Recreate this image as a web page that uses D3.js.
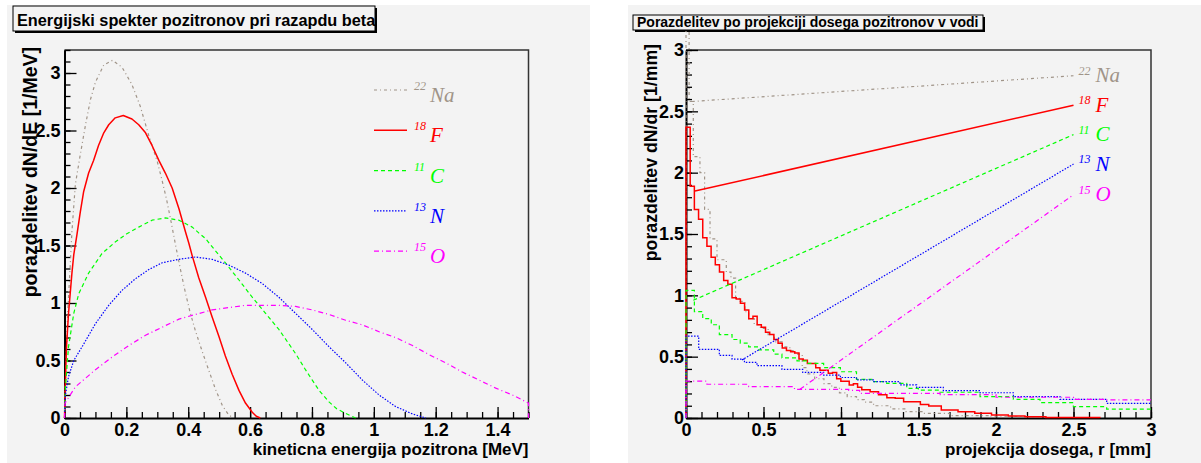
<!DOCTYPE html>
<html>
<head>
<meta charset="utf-8">
<script src="https://cdn.jsdelivr.net/npm/d3@7/dist/d3.min.js"></script>
<style>
body { margin: 0; background: #fff; }
svg { display: block; font-family: "Liberation Sans", Arial, sans-serif; }
</style>
</head>
<body>
<svg id="chart" width="1201" height="463"></svg>
<script>
// isotopes, same order everywhere
var massNumbers = ["22", "18", "11", "13", "15"];
var elements = ["Na", "F", "C", "N", "O"];

var energyTicks = [0, 0.2, 0.4, 0.6, 0.8, 1, 1.2, 1.4];
var densityTicksE = [0, 0.5, 1, 1.5, 2, 2.5, 3];
var rangeTicks = [0, 0.5, 1, 1.5, 2, 2.5, 3];
var densityTicksR = [0, 0.5, 1, 1.5, 2, 2.5, 3];

// energy spectra [E in MeV, dN/dE]
var na22E = [[0,0],[0.003,0.3],[0.01,0.9],[0.018,1.3],[0.024,1.62],[0.035,2.03],[0.051,2.29],[0.068,2.55],[0.084,2.77],[0.1,2.92],[0.127,3.07],[0.155,3.11],[0.186,3.05],[0.218,2.9],[0.245,2.71],[0.272,2.46],[0.3,2.23],[0.316,2.06],[0.33,1.9],[0.345,1.7],[0.36,1.49],[0.375,1.29],[0.39,1.1],[0.405,0.93],[0.423,0.76],[0.445,0.58],[0.467,0.41],[0.488,0.25],[0.51,0.11],[0.53,0.03],[0.545,0]];
var f18E = [[0,0],[0.003,0.3],[0.006,0.6],[0.013,0.91],[0.024,1.26],[0.03,1.42],[0.04,1.59],[0.051,1.79],[0.062,1.97],[0.078,2.13],[0.094,2.24],[0.11,2.37],[0.127,2.48],[0.143,2.55],[0.164,2.61],[0.19,2.63],[0.218,2.6],[0.24,2.55],[0.262,2.48],[0.283,2.37],[0.305,2.24],[0.326,2.13],[0.348,2.0],[0.37,1.82],[0.391,1.62],[0.402,1.52],[0.413,1.41],[0.434,1.22],[0.456,1.05],[0.477,0.88],[0.499,0.71],[0.52,0.54],[0.542,0.38],[0.564,0.24],[0.585,0.13],[0.607,0.05],[0.62,0.015],[0.633,0]];
var c11E = [[0,0],[0.003,0.27],[0.013,0.62],[0.03,0.91],[0.046,1.08],[0.078,1.26],[0.121,1.43],[0.164,1.53],[0.2,1.6],[0.24,1.66],[0.283,1.72],[0.326,1.74],[0.37,1.72],[0.413,1.66],[0.434,1.61],[0.456,1.56],[0.477,1.49],[0.52,1.35],[0.564,1.2],[0.607,1.05],[0.65,0.91],[0.693,0.77],[0.747,0.56],[0.779,0.42],[0.801,0.33],[0.823,0.24],[0.855,0.14],[0.88,0.08],[0.909,0.04],[0.941,0]];
var n13E = [[0,0],[0.003,0.2],[0.013,0.36],[0.03,0.5],[0.057,0.62],[0.1,0.82],[0.143,0.98],[0.186,1.11],[0.229,1.21],[0.272,1.29],[0.316,1.35],[0.37,1.38],[0.423,1.4],[0.477,1.38],[0.531,1.33],[0.585,1.26],[0.639,1.17],[0.693,1.05],[0.747,0.91],[0.801,0.77],[0.855,0.62],[0.909,0.48],[0.963,0.33],[1.017,0.2],[1.07,0.1],[1.125,0.035],[1.168,0]];
var o15E = [[0,0],[0.002,0.13],[0.035,0.27],[0.1,0.42],[0.154,0.53],[0.208,0.63],[0.262,0.72],[0.316,0.79],[0.37,0.86],[0.423,0.9],[0.477,0.94],[0.531,0.96],[0.585,0.98],[0.639,0.98],[0.693,0.98],[0.747,0.97],[0.801,0.94],[0.855,0.9],[0.909,0.85],[0.963,0.81],[1.017,0.75],[1.07,0.7],[1.125,0.63],[1.179,0.55],[1.232,0.48],[1.286,0.4],[1.34,0.33],[1.394,0.26],[1.448,0.2],[1.5,0.13],[1.5,0]];

// range histograms [bin start in mm, dN/dr]
var na22R = [[0,0],[0,3.15],[0.02,2.58],[0.047,2.13],[0.09,2.0],[0.12,1.7],[0.155,1.46],[0.2,1.29],[0.26,1.19],[0.29,1.14],[0.32,0.975],[0.35,0.95],[0.38,0.866],[0.404,0.81],[0.44,0.76],[0.48,0.73],[0.53,0.68],[0.57,0.62],[0.62,0.58],[0.67,0.55],[0.7,0.52],[0.75,0.41],[0.78,0.36],[0.83,0.32],[0.89,0.28],[0.94,0.25],[0.99,0.205],[1.04,0.175],[1.1,0.15],[1.15,0.13],[1.21,0.1],[1.32,0.075],[1.42,0.052],[1.53,0.038],[1.7,0.02],[1.96,0.01],[2.28,0]];
var f18R = [[0,0],[0,2.37],[0.027,1.89],[0.054,1.7],[0.081,1.62],[0.108,1.47],[0.135,1.4],[0.162,1.31],[0.189,1.25],[0.216,1.19],[0.243,1.12],[0.27,1.09],[0.297,0.98],[0.324,0.97],[0.351,0.935],[0.378,0.88],[0.405,0.81],[0.432,0.83],[0.459,0.76],[0.486,0.74],[0.513,0.7],[0.54,0.68],[0.567,0.64],[0.594,0.61],[0.621,0.57],[0.648,0.55],[0.675,0.54],[0.702,0.53],[0.729,0.48],[0.756,0.47],[0.783,0.445],[0.837,0.41],[0.864,0.39],[0.918,0.364],[0.945,0.37],[0.972,0.32],[0.999,0.3],[1.053,0.27],[1.08,0.28],[1.107,0.25],[1.134,0.23],[1.188,0.215],[1.242,0.19],[1.296,0.165],[1.35,0.16],[1.404,0.133],[1.512,0.11],[1.566,0.098],[1.647,0.065],[1.755,0.05],[1.863,0.038],[1.971,0.024],[2.079,0.016],[2.187,0.01],[2.322,0.005],[2.67,0]];
var c11R = [[0,0],[0,1.04],[0.054,0.867],[0.108,0.81],[0.163,0.76],[0.215,0.68],[0.297,0.64],[0.35,0.61],[0.404,0.58],[0.469,0.555],[0.566,0.52],[0.619,0.49],[0.716,0.465],[0.781,0.445],[0.888,0.41],[0.996,0.377],[1.1,0.315],[1.198,0.296],[1.295,0.283],[1.424,0.242],[1.499,0.228],[1.639,0.21],[1.897,0.174],[2.112,0.152],[2.284,0.125],[2.499,0.092],[2.714,0.073],[3,0.073]];
var n13R = [[0,0],[0,0.668],[0.082,0.56],[0.215,0.51],[0.297,0.48],[0.377,0.454],[0.458,0.427],[0.619,0.397],[0.753,0.372],[0.888,0.35],[0.996,0.33],[1.1,0.31],[1.208,0.296],[1.38,0.27],[1.488,0.25],[1.66,0.223],[1.897,0.206],[2.112,0.174],[2.413,0.152],[2.714,0.12],[3,0.12]];
var o15R = [[0,0],[0,0.3],[0.135,0.275],[0.404,0.255],[0.7,0.234],[1.05,0.225],[1.12,0.2],[1.64,0.19],[2.0,0.169],[2.5,0.152],[2.71,0.147],[3,0.147]];

// stray lines joining each histogram to its label (data coords)
var linkStart = [[0.037,2.58],[0.058,1.85],[0.047,0.96],[0.36,0.473],[0.735,0.234]];
var linkEnd = [[2.5,2.79],[2.5,2.55],[2.5,2.31],[2.5,2.07],[2.5,1.82]];

var spectraE = [na22E, f18E, c11E, n13E, o15E];
var histsR = [na22R, f18R, c11R, n13R, o15R];

var colors = ["#a09488", "#ff0000", "#00ff00", "#0000ff", "#ff00ff"];
var dashes = ["3,3,1,3", null, "4,3", "1.5,1.5", "5,3,1,3"];
var widths = [1.2, 1.5, 1.2, 1.2, 1.2];

var svg = d3.select("#chart");
var padFill = "#f3f3f3";

function panel(o) {
  svg.append("rect")
    .attr("x", o.padX).attr("y", 5)
    .attr("width", o.padW).attr("height", 458)
    .attr("fill", padFill);

  var x = d3.scaleLinear().domain(o.xDomain).range([o.left, o.right]);
  var y = d3.scaleLinear().domain(o.yDomain).range([o.bottom, o.top]);

  // frame top + right
  svg.append("path")
    .attr("d", "M" + o.left + "," + o.top + "H" + o.right + "V" + o.bottom)
    .attr("fill", "none")
    .attr("stroke", "#333")
    .attr("stroke-width", 1.5);

  // minor ticks
  svg.append("g")
    .attr("transform", "translate(0," + o.bottom + ")")
    .call(d3.axisBottom(x).tickValues(o.xMinor).tickSize(-6).tickSizeOuter(0).tickFormat(""))
    .call(function(g) { g.select(".domain").remove(); });
  svg.append("g")
    .attr("transform", "translate(" + o.left + ",0)")
    .call(d3.axisLeft(y).tickValues(o.yMinor).tickSize(-6).tickSizeOuter(0).tickFormat(""))
    .call(function(g) { g.select(".domain").remove(); });

  // major ticks + labels
  var gx = svg.append("g")
    .attr("transform", "translate(0," + o.bottom + ")")
    .call(d3.axisBottom(x).tickValues(o.xTicks).tickSize(-11).tickSizeOuter(0).tickPadding(5).tickFormat(d3.format("~g")));
  var gy = svg.append("g")
    .attr("transform", "translate(" + o.left + ",0)")
    .call(d3.axisLeft(y).tickValues(o.yTicks).tickSize(-12).tickSizeOuter(0).tickPadding(o.yPad).tickFormat(d3.format("~g")));

  [gx, gy].forEach(function(g) {
    g.attr("font-family", null).attr("font-size", 18).attr("font-weight", "bold");
    g.select(".domain").attr("stroke", "#000").attr("stroke-width", 2);
    g.selectAll(".tick line").attr("stroke", "#000");
    g.selectAll("text").attr("fill", "#000");
  });
  svg.selectAll(".tick line").attr("stroke-width", 1.3);

  // axis titles
  svg.append("text")
    .attr("x", o.right).attr("y", 455)
    .attr("text-anchor", "end")
    .attr("font-size", 17).attr("font-weight", "bold")
    .text(o.xTitle);
  svg.append("text")
    .attr("transform", "translate(" + o.yTitleX + "," + o.yTitleTop + ") rotate(-90)")
    .attr("text-anchor", "end")
    .attr("font-size", o.yTitleSize).attr("font-weight", "bold")
    .text(o.yTitle);

  // title box with shadow
  var t = o.titleBox;
  svg.append("rect")
    .attr("x", t.x + 2).attr("y", t.y + 2).attr("width", t.w).attr("height", t.h)
    .attr("fill", "#000");
  svg.append("rect")
    .attr("x", t.x).attr("y", t.y).attr("width", t.w).attr("height", t.h)
    .attr("fill", padFill).attr("stroke", "#000").attr("stroke-width", 1);
  svg.append("text")
    .attr("x", t.x + 4).attr("y", t.base)
    .attr("font-size", t.size).attr("font-weight", "bold")
    .text(o.title);

  return {x: x, y: y};
}

// ---- left: energy spectrum ----
var L = panel({
  padX: 7, padW: 583,
  left: 64.5, right: 528.5, top: 50, bottom: 418,
  xDomain: [0, 1.5], yDomain: [0, 3.2],
  xTicks: energyTicks, yTicks: densityTicksE,
  xMinor: d3.range(0, 1.5001, 0.05), yMinor: d3.range(0, 3.2001, 0.1),
  yPad: 4,
  xTitle: "kineticna energija pozitrona [MeV]",
  yTitle: "porazdelitev dN/dE [1/MeV]",
  yTitleX: 37, yTitleTop: 47, yTitleSize: 19.5,
  title: "Energijski spekter pozitronov pri razapdu beta",
  titleBox: {x: 13, y: 6, w: 362, h: 25, base: 26, size: 16.3}
});

var lineE = d3.line()
  .x(function(d) { return L.x(d[0]); })
  .y(function(d) { return L.y(d[1]); });

spectraE.forEach(function(s, i) {
  svg.append("path")
    .datum(s)
    .attr("fill", "none")
    .attr("stroke", colors[i])
    .attr("stroke-width", widths[i])
    .attr("stroke-dasharray", dashes[i])
    .attr("stroke-linejoin", "round")
    .attr("d", lineE);
});

// legend
massNumbers.forEach(function(m, i) {
  var ly = 90 + i * 40.3;
  svg.append("line")
    .attr("x1", 374).attr("x2", 407).attr("y1", ly).attr("y2", ly)
    .attr("stroke", colors[i]).attr("stroke-width", widths[i])
    .attr("stroke-dasharray", dashes[i]);
  svg.append("text")
    .attr("x", 414).attr("y", ly)
    .attr("font-family", "Liberation Serif, serif").attr("font-style", "italic")
    .attr("font-size", 12).attr("fill", colors[i])
    .text(m);
  svg.append("text")
    .attr("x", 430).attr("y", ly + 12)
    .attr("font-family", "Liberation Serif, serif").attr("font-style", "italic")
    .attr("font-size", 21).attr("fill", colors[i])
    .text(elements[i]);
});

// ---- right: range distribution ----
var R = panel({
  padX: 628, padW: 573,
  left: 686, right: 1151, top: 50, bottom: 418,
  xDomain: [0, 3], yDomain: [0, 3],
  xTicks: rangeTicks, yTicks: densityTicksR,
  xMinor: d3.range(0, 3.0001, 0.1), yMinor: d3.range(0, 3.0001, 0.1),
  yPad: 2,
  xTitle: "projekcija dosega, r [mm]",
  yTitle: "porazdelitev dN/dr [1/mm]",
  yTitleX: 657, yTitleTop: 44, yTitleSize: 17.7,
  title: "Porazdelitev po projekciji dosega pozitronov v vodi",
  titleBox: {x: 633, y: 15, w: 350, h: 15, base: 27, size: 14}
});

var lineR = d3.line()
  .curve(d3.curveStepAfter)
  .x(function(d) { return R.x(d[0]); })
  .y(function(d) { return R.y(d[1]); });

histsR.forEach(function(s, i) {
  svg.append("path")
    .datum(s)
    .attr("fill", "none")
    .attr("stroke", colors[i])
    .attr("stroke-width", widths[i])
    .attr("stroke-dasharray", dashes[i])
    .attr("d", lineR);
});

massNumbers.forEach(function(m, i) {
  var x2 = R.x(linkEnd[i][0]), y2 = R.y(linkEnd[i][1]);
  svg.append("line")
    .attr("x1", R.x(linkStart[i][0])).attr("y1", R.y(linkStart[i][1]))
    .attr("x2", x2).attr("y2", y2)
    .attr("stroke", colors[i]).attr("stroke-width", widths[i])
    .attr("stroke-dasharray", dashes[i]);
  svg.append("text")
    .attr("x", x2 + 5).attr("y", y2 - 1)
    .attr("font-family", "Liberation Serif, serif").attr("font-style", "italic")
    .attr("font-size", 12).attr("fill", colors[i])
    .text(m);
  svg.append("text")
    .attr("x", x2 + 22).attr("y", y2 + 6.5)
    .attr("font-family", "Liberation Serif, serif").attr("font-style", "italic")
    .attr("font-size", 21).attr("fill", colors[i])
    .text(elements[i]);
});
</script>
</body>
</html>
